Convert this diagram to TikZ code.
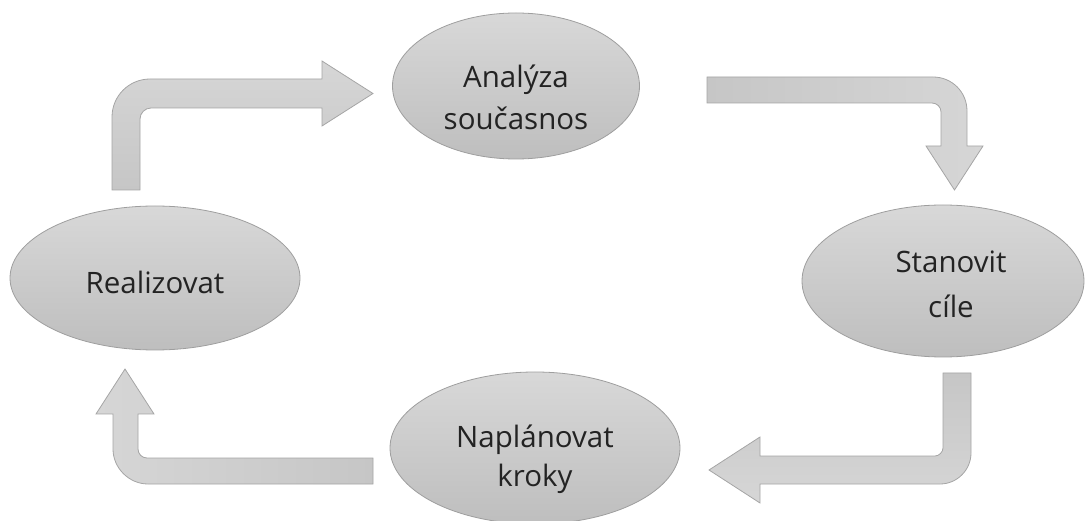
\documentclass[tikz,border=0pt]{standalone}
\usepackage{fontspec}
\setmainfont{Open Sans}
\usetikzlibrary{shapes.geometric}
\definecolor{ellTop}{RGB}{216,216,216}
\definecolor{ellBot}{RGB}{190,190,190}
\definecolor{ellLine}{RGB}{158,158,158}
\definecolor{arrLight}{RGB}{214,214,214}
\definecolor{arrDark}{RGB}{198,198,198}
\definecolor{arrLine}{RGB}{165,165,165}
\definecolor{txt}{RGB}{35,35,35}
\newcommand{\twolines}[4]{\raisebox{#4}[0pt][0pt]{\begin{tabular}{@{}c@{}}#1\\[#3]#2\end{tabular}}}
\newcommand{\oneline}[2]{\raisebox{#2}[0pt][0pt]{#1}}
\begin{document}
\begin{tikzpicture}[x=1pt,y=-1pt,
  ell/.style={ellipse, draw=ellLine, line width=0.8pt, top color=ellTop, bottom color=ellBot,
    inner sep=0pt, align=center, text=txt, font=\fontsize{29.5}{42}\selectfont},
  barrow/.style={draw=arrLine, line width=0.8pt, line join=miter}]
\useasboundingbox (0,0) rectangle (1085,521);

% bent block arrows
\draw[barrow, top color=arrLight, bottom color=arrDark]
  (140,190) -- (112,190) -- (112,117) .. controls (112,96) and (129,79) .. (150,79)
  -- (322,79) -- (322,61) -- (373,93.5) -- (322,126) -- (322,108) -- (151,108)
  .. controls (145,108) and (140,113) .. (140,119) -- cycle;
\draw[barrow, left color=arrDark, right color=arrLight]
  (707,77) -- (933,77) .. controls (952,77) and (967,92) .. (967,111) -- (967,146)
  -- (983,146) -- (954.5,190) -- (926,146) -- (941,146) -- (941,112)
  .. controls (941,107) and (937,103) .. (932,103) -- (707,103) -- cycle;
\draw[barrow, top color=arrDark, bottom color=arrLight]
  (943,373) -- (971,373) -- (971,453) .. controls (971,470) and (957,484) .. (940,484)
  -- (760,484) -- (760,503) -- (709,470) -- (760,437) -- (760,456) -- (935,456)
  .. controls (939,456) and (943,452) .. (943,448) -- cycle;
\draw[barrow, left color=arrLight, right color=arrDark]
  (373,458) -- (373,484) -- (148,484) .. controls (129,484) and (113,468) .. (113,449)
  -- (113,414) -- (96,414) -- (125,369) -- (154,414) -- (138,414) -- (138,449)
  .. controls (138,454) and (142,458) .. (147,458) -- cycle;

% ellipses
\node[ell, minimum width=247pt, minimum height=146pt] (a) at (516,86) {\twolines{Analýza}{současnos}{0pt}{-20pt}};
\node[ell, minimum width=282pt, minimum height=152pt] (s) at (943,281) {\hspace*{16pt}\twolines{Stanovit}{cíle}{3pt}{-12pt}};
\node[ell, minimum width=290pt, minimum height=152pt] (n) at (535,448) {\twolines{Naplánovat}{kroky}{-3pt}{-17pt}};
\node[ell, minimum width=290pt, minimum height=144pt] (r) at (155,278) {\oneline{Realizovat}{-16pt}};
\end{tikzpicture}
\end{document}
